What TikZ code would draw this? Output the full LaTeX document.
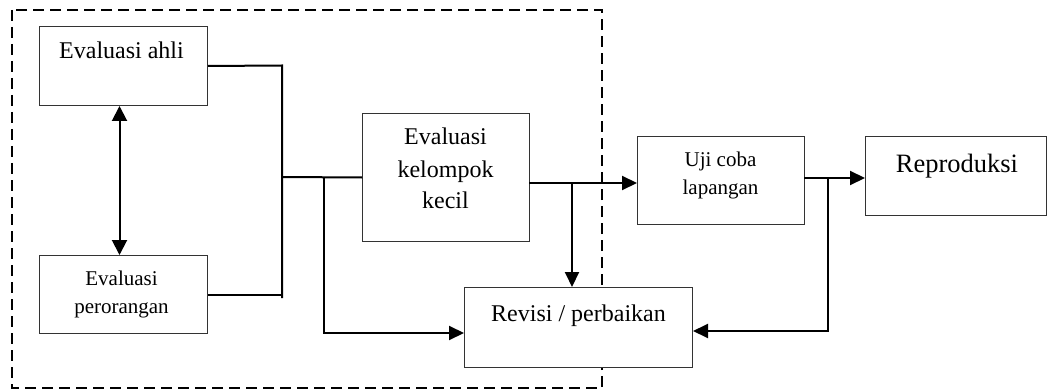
\documentclass[tikz,border=0pt]{standalone}
\usepackage{fontspec}
\setmainfont{Liberation Serif}
\usetikzlibrary{arrows.meta,calc}
\tikzset{
  box/.style={draw=black!80, line width=1pt, fill=white, inner sep=0pt, anchor=north west},
  conn/.style={draw=black, line width=2pt},
  arr/.style={conn, -{Triangle[length=15pt,width=14pt]}},
  dbl/.style={conn, {Triangle[length=15pt,width=15pt]}-{Triangle[length=15pt,width=15pt]}},
  dashbox/.style={draw=black, line width=2pt, dash pattern=on 11pt off 6pt},
  tbig/.style={font=\fontsize{24}{28}\selectfont, inner sep=0pt, anchor=base},
  tsmall/.style={font=\fontsize{21}{25}\selectfont, inner sep=0pt, anchor=base},
  trep/.style={font=\fontsize{26.5}{30}\selectfont, inner sep=0pt, anchor=base},
}
\begin{document}
\begin{tikzpicture}[x=1pt,y=-1pt]
\useasboundingbox (0,0) rectangle (1048,390);
% dashed group
\draw[dashbox] (12,10) rectangle (602,388);
% boxes
\node[box, minimum width=168pt, minimum height=79pt] (ahli) at (39,26) {};
\node[box, minimum width=168pt, minimum height=78pt] (pero) at (39,255) {};
\node[box, minimum width=167pt, minimum height=128pt] (kel) at (362,113) {};
\node[box, minimum width=167pt, minimum height=88pt] (uji) at (637,136) {};
\node[box, minimum width=181pt, minimum height=79pt] (repro) at (865,136) {};
\node[box, minimum width=228pt, minimum height=80pt] (rev) at (464,287) {};
% texts
\node[tbig] (t-ahli) at (121.5,58.5) {Evaluasi ahli};
\node[tsmall] (t-pero1) at (121.5,285) {Evaluasi};
\node[tsmall] (t-pero2) at (121.5,313) {perorangan};
\node[tbig] (t-kel1) at (445.5,145) {Evaluasi};
\node[tbig] (t-kel2) at (445.5,177) {kelompok};
\node[tbig] (t-kel3) at (445.5,208) {kecil};
\node[tsmall] (t-uji1) at (720.5,167) {Uji coba};
\node[tsmall] (t-uji2) at (720.5,194) {lapangan};
\node[trep] (t-rep) at (957,172) {Reproduksi};
\node[tbig] (t-rev) at (578.5,321) {Revisi / perbaikan};
% connector coordinates
\coordinate (busT) at (282,65.5);
\coordinate (busB) at (282,298);
\coordinate (busM) at (282,177);
\coordinate (br1) at (324,177);
\coordinate (br1b) at (324,333);
\coordinate (ka) at (529,183);
\coordinate (kb) at (572,183);
\coordinate (ua) at (804,178);
\coordinate (ub) at (828,178);
\coordinate (ubb) at (828,331);
% connectors
\draw[dbl] ($(ahli.south)+(-4,0)$) -- ($(pero.north)+(-4,0)$);
\draw[conn] (ahli.east) -- (busT) -- (busB);
\draw[conn] (pero.east) -- (pero.east -| busB);
\draw[conn] (busM) -- (kel.west);
\draw[arr] (br1) -- (br1b) -- (br1b -| rev.west);
\draw[arr] (ka) -- (ka -| uji.west);
\draw[arr] (kb) -- (kb |- rev.north);
\draw[arr] (ua) -- (ua -| repro.west);
\draw[arr] (ub) -- (ubb) -- (ubb -| rev.east);
\end{tikzpicture}
\end{document}
